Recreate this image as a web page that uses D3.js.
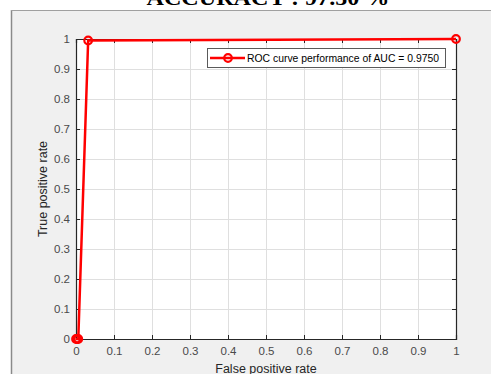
<!DOCTYPE html>
<html><head><meta charset="utf-8">
<script src="https://cdn.jsdelivr.net/npm/d3@7"></script>
<style>html,body{margin:0;padding:0;background:#fff;overflow:hidden}</style>
</head><body>
<svg id="c" width="491" height="374"></svg>
<script>
const fpr = [0, 0.003, 0.006, 0.032, 1];
const tpr = [0, 0, 0, 0.995, 1];
const xTicks = [0,0.1,0.2,0.3,0.4,0.5,0.6,0.7,0.8,0.9,1];
const yTicks = [0,0.1,0.2,0.3,0.4,0.5,0.6,0.7,0.8,0.9,1];
const titleText = "ACCURACY : 97.50 %";
const legendText = "ROC curve performance of AUC = 0.9750";
const xLabel = "False positive rate";
const yLabel = "True positive rate";

const svg = d3.select("#c");
svg.append("rect").attr("x",11).attr("y",10).attr("width",480).attr("height",364).attr("fill","#f0f0f0");
svg.append("line").attr("x1",11.5).attr("x2",11.5).attr("y1",10).attr("y2",374).attr("stroke","#8a8a8a").attr("stroke-width",1.5);
svg.append("line").attr("x1",11).attr("x2",491).attr("y1",10.5).attr("y2",10.5).attr("stroke","#a0a0a0").attr("stroke-width",1);

svg.append("text").attr("x",268).attr("y",5).attr("text-anchor","middle")
  .attr("font-family","'Liberation Serif','DejaVu Serif',serif").attr("font-weight","bold")
  .attr("font-size",22).attr("fill","#000").attr("textLength",243).attr("lengthAdjust","spacingAndGlyphs")
  .text(titleText);

const L=76, R=456, T=39, B=339;
const x = d3.scaleLinear().domain([0,1]).range([L,R]);
const y = d3.scaleLinear().domain([0,1]).range([B,T]);

svg.append("rect").attr("x",L).attr("y",T).attr("width",R-L).attr("height",B-T).attr("fill","#fff");

const g = svg.append("g");
g.selectAll("line.gx").data(xTicks.slice(1,-1)).enter().append("line")
  .attr("x1",d=>Math.round(x(d))+0.5).attr("x2",d=>Math.round(x(d))+0.5).attr("y1",T).attr("y2",B)
  .attr("stroke","#dfdfdf").attr("stroke-width",1);
g.selectAll("line.gy").data(yTicks.slice(1,-1)).enter().append("line")
  .attr("y1",d=>Math.round(y(d))+0.5).attr("y2",d=>Math.round(y(d))+0.5).attr("x1",L).attr("x2",R)
  .attr("stroke","#dfdfdf").attr("stroke-width",1);

const axCol = "#262626";
const font = "'Liberation Sans',Arial,sans-serif";
const xb = svg.append("g").attr("transform",`translate(0,${B})`)
  .call(d3.axisBottom(x).tickValues(xTicks).tickSize(-4).tickPadding(8).tickFormat(d3.format("")));
const xt = svg.append("g").attr("transform",`translate(0,${T})`)
  .call(d3.axisTop(x).tickValues(xTicks).tickSize(-4).tickFormat(""));
const yl = svg.append("g").attr("transform",`translate(${L},0)`)
  .call(d3.axisLeft(y).tickValues(yTicks).tickSize(-4).tickPadding(8).tickFormat(d3.format("")));
const yr = svg.append("g").attr("transform",`translate(${R},0)`)
  .call(d3.axisRight(y).tickValues(yTicks).tickSize(-4).tickFormat(""));
[xb,xt,yl,yr].forEach(a=>{
  a.selectAll("path.domain").attr("stroke",axCol).attr("stroke-width",1.2);
  a.selectAll(".tick line").attr("stroke",axCol);
  a.selectAll("text").attr("font-family",font).attr("font-size",11.5).attr("fill","#4a4a4a");
});
yl.selectAll("text").attr("dx",2);

svg.append("text").attr("x",266).attr("y",373).attr("text-anchor","middle")
  .attr("font-family",font).attr("font-size",12.5).attr("fill","#262626").text(xLabel);
svg.append("text").attr("transform",`translate(47,189) rotate(-90)`).attr("text-anchor","middle")
  .attr("font-family",font).attr("font-size",12.5).attr("fill","#262626").text(yLabel);

const pts = fpr.map((f,i)=>[f,tpr[i]]);
svg.append("path").datum(pts).attr("d",d3.line().x(d=>x(d[0])).y(d=>y(d[1])))
  .attr("fill","none").attr("stroke","#ff0000").attr("stroke-width",2.5);
svg.selectAll("circle.m").data(pts).enter().append("circle")
  .attr("cx",d=>x(d[0])).attr("cy",d=>y(d[1])).attr("r",3.8)
  .attr("fill","none").attr("stroke","#ff0000").attr("stroke-width",2.2);

const lg = svg.append("g");
lg.append("rect").attr("x",207.5).attr("y",48.5).attr("width",238).attr("height",19)
  .attr("fill","#fff").attr("stroke","#5a5a5a").attr("stroke-width",1);
lg.append("line").attr("x1",210).attr("x2",245).attr("y1",58).attr("y2",58).attr("stroke","#ff0000").attr("stroke-width",2.5);
lg.append("circle").attr("cx",228).attr("cy",58).attr("r",3.8).attr("fill","none").attr("stroke","#ff0000").attr("stroke-width",2.2);
lg.append("text").attr("x",247).attr("y",62).attr("font-family",font).attr("font-size",11).attr("fill","#000")
  .attr("textLength",192).attr("lengthAdjust","spacingAndGlyphs").text(legendText);
</script>
</body></html>
